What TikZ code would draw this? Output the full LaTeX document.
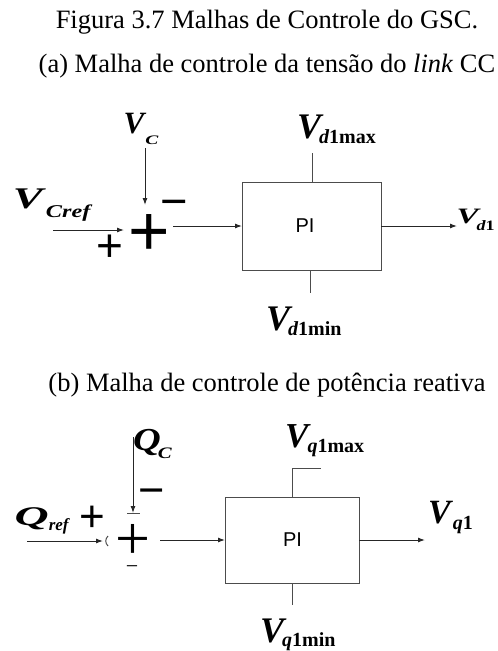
\documentclass[tikz,border=0pt]{standalone}
\usepackage{fontspec}
\setmainfont{Liberation Serif}
\newfontfamily\sansf{Liberation Sans}
\usetikzlibrary{arrows.meta}
\newcommand\fsz[1]{\fontsize{#1}{#1}\selectfont}
\begin{document}
\begin{tikzpicture}[x=1pt,y=-1pt,
  conn/.style={line width=1pt, draw=black!85, -{Latex[length=7pt,width=5pt]}},
  stub/.style={line width=1pt, draw=black!70},
  pibox/.style={draw=black!70, line width=1pt, inner sep=0, outer sep=0},
  pitext/.style={inner sep=0, font=\sansf\fsz{20}},
  lab/.style={inner sep=0, anchor=base west, font=\bfseries\itshape},
  sgn/.style={inner sep=0},
  heading/.style={inner sep=0, anchor=base, font=\fsz{26.5}}]
\useasboundingbox (0,0) rectangle (498,651);
% titles
\node[heading] (title) at (267,28) {Figura 3.7 Malhas de Controle do GSC.};
\node[heading] (suba) at (267,72) {(a) Malha de controle da tensão do \textit{link} CC};
\node[heading] (subb) at (267,391) {(b) Malha de controle de potência reativa};
% ---------------- (a)
\node[pibox, minimum width=139pt, minimum height=88pt] (boxa) at (311.5,226) {};
\node[pitext] (pia) at (305,226) {PI};
\node[sgn, font=\sansf\fsz{71}] (suma) at (149,235) {+};
\node[sgn, font=\sansf\fsz{46}] (pa) at (110,248.5) {+};
\node[sgn, font=\sansf\fsz{47}] (ma) at (174,209) {−};
\node[lab] (vc) at (123.4,133) {\fsz{31}V\kern1pt\raisebox{-11pt}{\scalebox{1.5}[1]{\fsz{13}C}}};
\node[lab] (vcref) at (12.7,208) {\scalebox{1.5}[1]{\fsz{30}V}\kern3pt\raisebox{-9pt}{\scalebox{1.35}[1]{\fsz{18}Cref}}};
\node[lab] (vdmax) at (297,138) {\fsz{36}V\kern-2pt\raisebox{-5pt}{\fsz{20}d{\upshape 1max}}};
\node[lab] (vdmin) at (266,330) {\fsz{36}V\kern-2pt\raisebox{-5pt}{\fsz{20}d{\upshape 1min}}};
\node[lab] (vd) at (456.3,223) {\scalebox{1.5}[1]{\fsz{22}V}\kern-2pt\raisebox{-7pt}{\scalebox{1.26}[1]{\fsz{14.3}d{\upshape 1}}}};
\coordinate (a-in) at (53,230);
\coordinate (a-sin) at (124,230);
\coordinate (a-top) at (145,148);
\coordinate (a-stop) at (145,205);
\coordinate (a-sout) at (173,226);
\coordinate (a-out) at (457,226);
\coordinate (a-mx) at (312,153);
\coordinate (a-mn) at (310,293);
\draw[conn] (a-in) -- (a-sin);
\draw[conn] (a-top) -- (a-stop);
\draw[conn] (a-sout) -- (boxa.west);
\draw[conn] (boxa.east) -- (a-out);
\draw[stub] (boxa.north -| a-mx) -- (a-mx);
\draw[stub] (boxa.south -| a-mn) -- (a-mn);
% ---------------- (b)
\node[pibox, minimum width=134pt, minimum height=86pt] (boxb) at (292,540) {};
\node[pitext] (pib) at (292.5,540) {PI};
\node[sgn, font=\fsz{62}] (sumb) at (133,542) {+};
\node[sgn, font=\sansf\fsz{44}] (pb) at (92,518.5) {+};
\node[sgn, font=\sansf\fsz{45}] (mb) at (152,497.5) {−};
\node[sgn, font=\fsz{22}] (mb2) at (132,570) {−};
\node[lab] (qc) at (133,450) {\scalebox{1.2}[1]{\fsz{32}Q}\kern-3pt\raisebox{-8pt}{\scalebox{1.3}[1]{\fsz{16}C}}};
\node[lab] (qref) at (14.5,525.5) {\scalebox{1.75}[1]{\fsz{27}Q}\raisebox{-4.5pt}{\fsz{17}ref}};
\node[lab] (vqmax) at (285,447) {\fsz{35}V\kern-1pt\raisebox{-5pt}{\fsz{20}q{\upshape 1max}}};
\node[lab] (vqmin) at (260,642) {\fsz{36}V\kern-2pt\raisebox{-4pt}{\fsz{20}q{\upshape 1min}}};
\node[lab] (vq) at (428,523) {\fsz{34}V\kern2pt\raisebox{-6pt}{\fsz{20}q{\upshape 1}}};
\coordinate (b-in) at (27,541);
\coordinate (b-sin) at (103,541);
\coordinate (b-top) at (133,437);
\coordinate (b-stop) at (133,513);
\coordinate (b-sout) at (160,540);
\coordinate (b-out) at (425,540);
\coordinate (b-mx) at (292,468);
\coordinate (b-mxe) at (321,468);
\coordinate (b-mn) at (292,605);
\draw[conn] (b-in) -- (b-sin);
\draw[stub] (108,536) .. controls (105,539) and (105,543) .. (108,546);
\draw[conn] (b-top) -- (b-stop);
\draw[stub] (127,513) -- (140,513);
\draw[conn] (b-sout) -- (boxb.west);
\draw[conn] (boxb.east) -- (b-out);
\draw[stub] (boxb.north -| b-mx) -- (b-mx) -- (b-mxe);
\draw[stub] (boxb.south -| b-mn) -- (b-mn);
\end{tikzpicture}
\end{document}
